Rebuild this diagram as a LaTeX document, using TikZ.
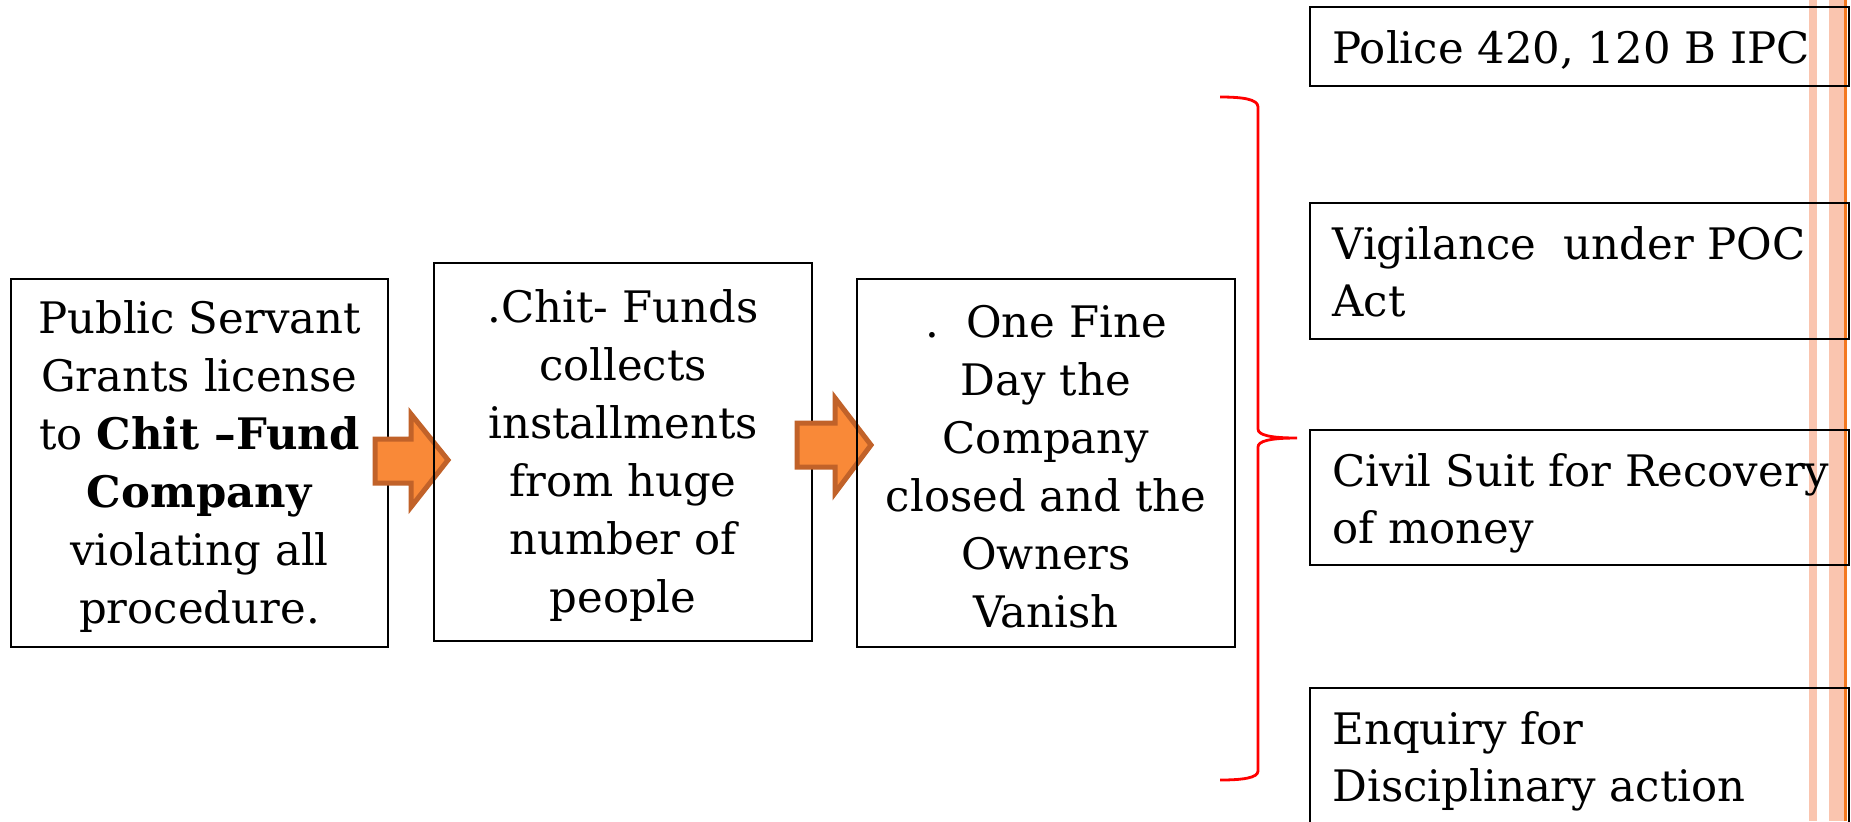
\documentclass[tikz,border=0pt]{standalone}
\usepackage{fontspec}
\setmainfont{DejaVu Serif}
\definecolor{arrowfill}{RGB}{249,137,56}
\definecolor{arrowdraw}{RGB}{193,98,41}
\definecolor{stripecol}{RGB}{250,197,175}
\definecolor{orangeline}{RGB}{244,121,32}
\newcommand{\fsz}{\fontsize{21.7}{29}\selectfont}
\newcommand{\fszr}{\fontsize{21.7}{28.5}\selectfont}
\newcommand{\topstrut}{\rule{0pt}{19.8pt}}
\tikzset{
  box/.style={draw=black, line width=0.9pt, inner sep=0pt, outer sep=0pt},
  lbox/.style={box, align=center, font=\fsz},
  rbox/.style={box, anchor=north west, minimum width=269.5pt},
  rtext/.style={anchor=north west, inner sep=0pt, align=left, font=\fszr},
  blockarrow/.style={fill=arrowfill, draw=arrowdraw, line width=2.5pt, line join=miter},
  bracestyle/.style={draw=red, line width=1.4pt},
  stripe/.style={fill=stripecol, draw=none},
  oline/.style={fill=orangeline, draw=none}
}
\begin{document}
\begin{tikzpicture}[x=0.5pt,y=-0.5pt]
\clip (0,0) rectangle (1851,821);
\fill[white] (0,0) rectangle (1851,821);
% stripes
\path[stripe] (1809,0) rectangle (1817,821);
\path[stripe] (1829,0) rectangle (1844,821);
\path[oline] (1844,0) rectangle (1846.5,821);
% brace
\draw[bracestyle] (1220,97) .. controls (1242,97) and (1258,99) .. (1258,107)
  -- (1258,429) .. controls (1258,435) and (1270,438) .. (1297,438)
  .. controls (1270,438) and (1258,441) .. (1258,447)
  -- (1258,771) .. controls (1258,778) and (1242,780) .. (1220,780);
% right boxes
\node[rbox, minimum height=39.5pt] (r1) at (1310,7) {};
\node[rbox, minimum height=68pt] (r2) at (1310,203) {};
\node[rbox, minimum height=67.5pt] (r3) at (1310,430) {};
\node[rbox, minimum height=90pt] (r4) at (1310,688) {};
\node[rtext] (t1) at (1332,30) {Police 420, 120 B IPC};
\node[rtext] (t2) at (1332,226) {Vigilance\ \ under POC\\Act};
\node[rtext] (t3) at (1332,453) {Civil Suit for Recovery\\of money};
\node[rtext] (t4) at (1332,711) {Enquiry for\\Disciplinary action};
% left boxes and arrows
\node[lbox, minimum width=188.5pt, minimum height=184pt] (b1) at (199.5,463)
  {\topstrut Public Servant\\Grants license\\to \textbf{Chit –Fund}\\\textbf{Company}\\violating all\\procedure.};
\draw[blockarrow] (375,439) -- (411,439) -- (411,414) -- (448,460) -- (411,507) -- (411,483) -- (375,483) -- cycle;
\node[lbox, minimum width=189pt, minimum height=189pt] (b2) at (623,452)
  {\topstrut .Chit- Funds\\collects\\installments\\from huge\\number of\\people};
\draw[blockarrow] (797,423) -- (835,423) -- (835,398) -- (871,445) -- (835,493) -- (835,467) -- (797,467) -- cycle;
\node[lbox, minimum width=189pt, minimum height=184pt] (b3) at (1046,463)
  {\topstrut .\ \ One Fine\\Day the\\Company\\closed and the\\Owners\\Vanish};
\end{tikzpicture}
\end{document}
